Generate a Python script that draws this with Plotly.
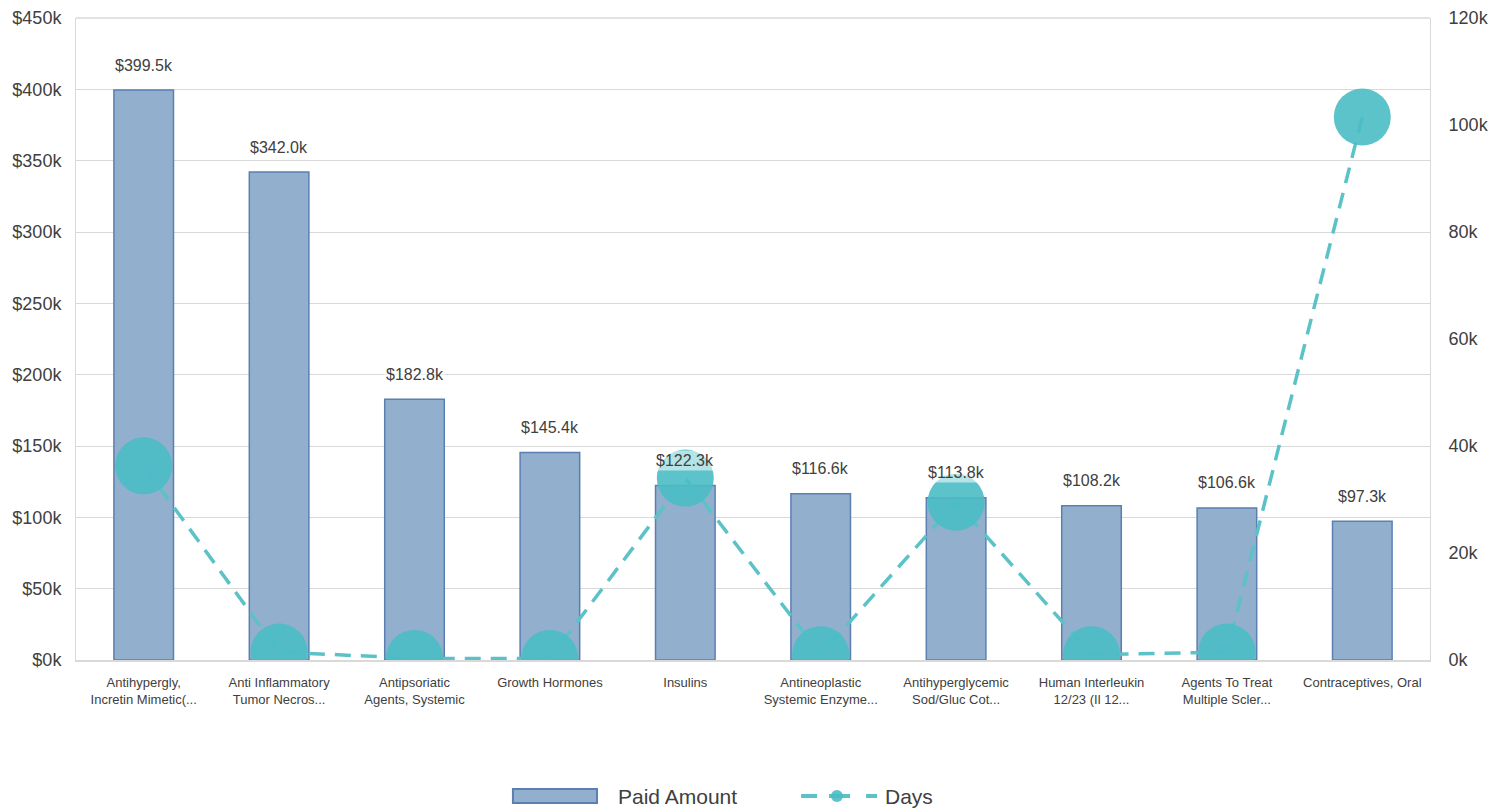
import plotly.graph_objects as go

categories = [
    "Antihypergly,<br>Incretin Mimetic(...",
    "Anti Inflammatory<br>Tumor Necros...",
    "Antipsoriatic<br>Agents, Systemic",
    "Growth Hormones",
    "Insulins",
    "Antineoplastic<br>Systemic Enzyme...",
    "Antihyperglycemic<br>Sod/Gluc Cot...",
    "Human Interleukin<br>12/23 (Il 12...",
    "Agents To Treat<br>Multiple Scler...",
    "Contraceptives, Oral",
]
paid_amount = [399.5, 342.0, 182.8, 145.4, 122.3, 116.6, 113.8, 108.2, 106.6, 97.3]  # $k
days = [36.3, 1.5, 0.3, 0.3, 34.0, 1.0, 29.5, 1.0, 1.5, 101.5]  # k

left_ticks = [0, 50, 100, 150, 200, 250, 300, 350, 400, 450]
left_ticktext = ["$0k", "$50k", "$100k", "$150k", "$200k", "$250k", "$300k", "$350k", "$400k", "$450k"]
right_ticks = [0, 20, 40, 60, 80, 100, 120]
right_ticktext = ["0k", "20k", "40k", "60k", "80k", "100k", "120k"]
series_names = ["Paid Amount", "Days"]

BAR_FILL = "#92AFCD"
BAR_LINE = "#5A80B2"
TEAL = "#5BC2C8"
BUBBLE = "rgba(74,189,197,0.9)"
TXT = "#404040"
GRID = "#D9D9D9"
FONT = "Liberation Sans, Arial"

TOP = 10
BOT = 159
PLOT_H = 811 - TOP - BOT


def py(screen_y):
    # screen y (page has an 8px body offset) -> paper coordinate
    return (811 - BOT + 8 - screen_y) / PLOT_H


x_idx = list(range(len(categories)))

fig = go.Figure()
fig.add_trace(go.Bar(
    x=x_idx, y=paid_amount, name=series_names[0],
    marker=dict(color=BAR_FILL, line=dict(color=BAR_LINE, width=1.5)),
    width=0.44, yaxis="y", showlegend=False,
))
fig.add_trace(go.Scatter(
    x=x_idx, y=days, name=series_names[1], yaxis="y2", mode="lines+markers",
    line=dict(color=TEAL, width=3.5, dash="16px,10px"),
    marker=dict(size=57, color=BUBBLE, line=dict(width=0)),
    showlegend=False,
))

annotations = []
for i, v in enumerate(paid_amount):
    annotations.append(dict(
        x=i, y=v, xref="x", yref="y", text=f"${v:.1f}k", showarrow=False,
        yshift=25, font=dict(size=16, color=TXT, family=FONT),
        bgcolor="rgba(255,255,255,0.55)",
    ))

# manual legend (paper coordinates)
LEG_Y = py(796)
annotations.append(dict(x=0.3988, y=LEG_Y, xref="paper", yref="paper", xanchor="left",
                        yanchor="middle", text=series_names[0], showarrow=False,
                        font=dict(size=21, color=TXT, family=FONT)))
annotations.append(dict(x=0.5960, y=LEG_Y, xref="paper", yref="paper", xanchor="left",
                        yanchor="middle", text=series_names[1], showarrow=False,
                        font=dict(size=21, color=TXT, family=FONT)))
shapes = [
    dict(type="rect", xref="paper", yref="paper", x0=0.3227, x1=0.3848, y0=py(803), y1=py(789),
         fillcolor=BAR_FILL, line=dict(color=BAR_LINE, width=2)),
    dict(type="line", xref="paper", yref="paper", x0=0.5355, x1=0.5473, y0=LEG_Y, y1=LEG_Y,
         line=dict(color=TEAL, width=4)),
    dict(type="line", xref="paper", yref="paper", x0=0.5561, x1=0.5717, y0=LEG_Y, y1=LEG_Y,
         line=dict(color=TEAL, width=4)),
    dict(type="line", xref="paper", yref="paper", x0=0.5835, x1=0.5916, y0=LEG_Y, y1=LEG_Y,
         line=dict(color=TEAL, width=4)),
    dict(type="circle", xref="paper", yref="paper", xsizemode="pixel", ysizemode="pixel",
         xanchor=0.5620, yanchor=LEG_Y, x0=-6, x1=6, y0=-6, y1=6,
         fillcolor=BUBBLE, line=dict(width=0)),
    dict(type="line", xref="paper", yref="paper", x0=0, x1=1, y0=1, y1=1,
         line=dict(color=GRID, width=1.3), layer="below"),
]

fig.update_layout(
    width=1503, height=811,
    margin=dict(l=68, r=81, t=TOP, b=BOT, autoexpand=False),
    plot_bgcolor="white", paper_bgcolor="white",
    font=dict(family=FONT, color=TXT),
    showlegend=False,
    xaxis=dict(tickvals=x_idx, ticktext=categories, range=[-0.5, 9.5], automargin=False,
               tickfont=dict(size=13, color=TXT), showgrid=False, ticklabelstandoff=10,
               showline=True, linecolor=GRID, linewidth=1.5, ticks=""),
    yaxis=dict(range=[0, 450.02], tickvals=left_ticks, ticktext=left_ticktext, automargin=False,
               tickfont=dict(size=18, color=TXT), gridcolor=GRID, gridwidth=1.3,
               showline=True, linecolor=GRID, zeroline=False, ticklabelstandoff=10),
    yaxis2=dict(range=[0, 120.005], tickvals=right_ticks, ticktext=right_ticktext, overlaying="y",
                side="right", tickfont=dict(size=18, color=TXT), showgrid=False, automargin=False,
                showline=True, linecolor=GRID, zeroline=False, ticklabelstandoff=14),
    annotations=annotations,
    shapes=shapes,
)

fig.write_html("out.html")
